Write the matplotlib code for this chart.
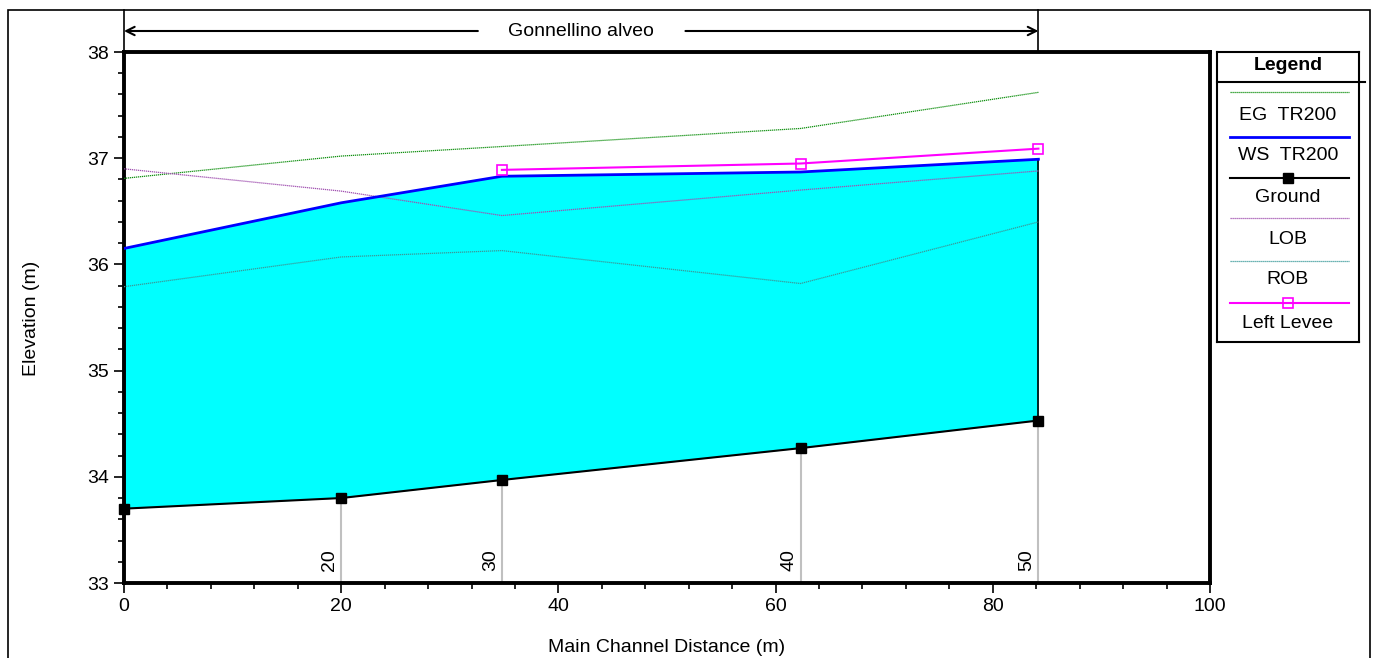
import matplotlib.pyplot as plt
from matplotlib.lines import Line2D
from matplotlib.patches import Rectangle
from matplotlib.ticker import MultipleLocator
import matplotlib.transforms as mtransforms

plt.rcParams['font.family'] = ['Liberation Sans Narrow', 'Liberation Sans', 'DejaVu Sans']

# main channel distance of each cross section (m)
dist = [0.0, 20.0, 34.8, 62.3, 84.2]
stations = ["10", "20", "30", "40", "50"]

ground = [33.70, 33.80, 33.97, 34.27, 34.53]
ws_tr200 = [36.15, 36.58, 36.83, 36.87, 36.99]
eg_tr200 = [36.81, 37.02, 37.11, 37.28, 37.62]
lob = [36.90, 36.69, 36.46, 36.70, 36.88]
rob = [35.79, 36.07, 36.13, 35.82, 36.40]

levee_dist = [34.8, 62.3, 84.2]
left_levee = [36.89, 36.95, 37.09]

reach_name = "Gonnellino alveo"
legend_names = ["EG  TR200", "WS  TR200", "Ground", "LOB", "ROB", "Left Levee"]

C_EG = "#109010"
C_WS = "#0000ff"
C_LOB = "#a050b0"
C_ROB = "#3a9a9a"
C_LEV = "#ff00ff"
FS = 14

fig = plt.figure(figsize=(13.79, 6.58), dpi=100)
W, H = 1379, 658

# outer frame
fig.patches.append(Rectangle((8 / W, -0.01), (1370 - 8) / W, (H - 10) / H + 0.01,
                             transform=fig.transFigure, fill=False, lw=1.2,
                             edgecolor="black"))

ax = fig.add_axes([124 / W, (H - 583) / H, (1210 - 124) / W, (583 - 52) / H])

ax.fill_between(dist, ground, ws_tr200, color="#00ffff", lw=0, zorder=1)
ax.plot([dist[-1], dist[-1]], [ground[-1], ws_tr200[-1]], color="black", lw=1.2, zorder=3)

# vertical station lines
for d, g, s in zip(dist, ground, stations):
    if d > 0:
        ax.plot([d, d], [33, g], color="#c0c0c0", lw=1.5, zorder=2)
        ax.annotate(s, (d, 33.0), xytext=(-2, 9), textcoords="offset points",
                    rotation=90, ha="right", va="bottom", fontsize=FS)

ax.plot(dist, eg_tr200, color=C_EG, lw=0.9, ls=(0, (1, 0.6)), zorder=4)
ax.plot(dist, lob, color=C_LOB, lw=0.9, ls=(0, (1, 0.6)), zorder=4)
ax.plot(dist, rob, color=C_ROB, lw=0.9, ls=(0, (1, 0.6)), zorder=4)
ax.plot(dist, ws_tr200, color=C_WS, lw=2.0, zorder=5)
ax.plot(dist, ground, color="black", lw=1.5, marker="s", ms=7, zorder=6, clip_on=False)
ax.plot(levee_dist, left_levee, color=C_LEV, lw=1.5, marker="s", ms=7,
        mfc="none", mew=1.2, zorder=6)

ax.set_xlim(0, 100)
ax.set_ylim(33, 38)
ax.xaxis.set_major_locator(MultipleLocator(20))
ax.xaxis.set_minor_locator(MultipleLocator(4))
ax.yaxis.set_major_locator(MultipleLocator(1))
ax.yaxis.set_minor_locator(MultipleLocator(0.2))
ax.tick_params(which="major", direction="out", length=7, width=1.2, labelsize=FS)
ax.tick_params(which="minor", direction="out", length=4, width=1.2)
for sp in ax.spines.values():
    sp.set_linewidth(2.8)

fig.text(667 / W, 1 - 647 / H, "Main Channel Distance (m)", ha="center", va="center",
         fontsize=FS)
fig.text(31 / W, 1 - 318 / H, "Elevation (m)", ha="center", va="center",
         rotation=90, fontsize=FS)

# reach annotation above the plot
trans = mtransforms.blended_transform_factory(ax.transData, ax.transAxes)
y_arrow = (583 - 31) / 531
y_top = (583 - 10) / 531
ax.plot([dist[-1], dist[-1]], [1.0, y_top], transform=trans, color="black",
        lw=1.2, clip_on=False)
ax.plot([0, 0], [1.0, y_top], transform=trans, color="black", lw=1.2, clip_on=False)
reach_len = dist[-1] - dist[0]
gap_l = dist[0] + 0.387 * reach_len
gap_r = dist[0] + 0.614 * reach_len
arrow = dict(arrowstyle="->", lw=1.5, color="black", shrinkA=0, shrinkB=0,
             mutation_scale=15)
ax.annotate("", xy=(dist[0], y_arrow), xytext=(gap_l, y_arrow), xycoords=trans,
            textcoords=trans, arrowprops=arrow)
ax.annotate("", xy=(dist[-1], y_arrow), xytext=(gap_r, y_arrow), xycoords=trans,
            textcoords=trans, arrowprops=arrow)
ax.text((dist[0] + dist[-1]) / 2, y_arrow, reach_name, transform=trans, ha="center",
        va="center", fontsize=FS)

# legend box
lg = fig.add_axes([1217 / W, (H - 342) / H, (1359 - 1217) / W, (342 - 52) / H])
lg.set_xlim(0, 1)
lg.set_ylim(342, 52)
lg.set_xticks([])
lg.set_yticks([])
for sp in lg.spines.values():
    sp.set_linewidth(1.5)
lg.text(0.5, 66, "Legend", ha="center", va="center", fontsize=FS, fontweight="bold")
lg.plot([0, 1.04], [82, 82], color="black", lw=1.5, clip_on=False)

line_y = [92, 137, 178, 218, 261, 303]
text_y = [115, 156, 197, 240, 280, 323]
styles = [
    dict(color=C_EG, lw=0.9, ls=(0, (1, 0.6))),
    dict(color=C_WS, lw=2.0),
    dict(color="black", lw=1.5, marker="s", ms=7, markevery=[1]),
    dict(color=C_LOB, lw=0.9, ls=(0, (1, 0.6))),
    dict(color=C_ROB, lw=0.9, ls=(0, (1, 0.6))),
    dict(color=C_LEV, lw=1.5, marker="s", ms=7, mfc="none", mew=1.2, markevery=[1]),
]
for name, ly, ty, st in zip(legend_names, line_y, text_y, styles):
    lg.add_line(Line2D([0.09, 0.5, 0.93], [ly, ly, ly], **st))
    lg.text(0.5, ty, name, ha="center", va="center", fontsize=FS)

fig.savefig("out.png", dpi=100)
